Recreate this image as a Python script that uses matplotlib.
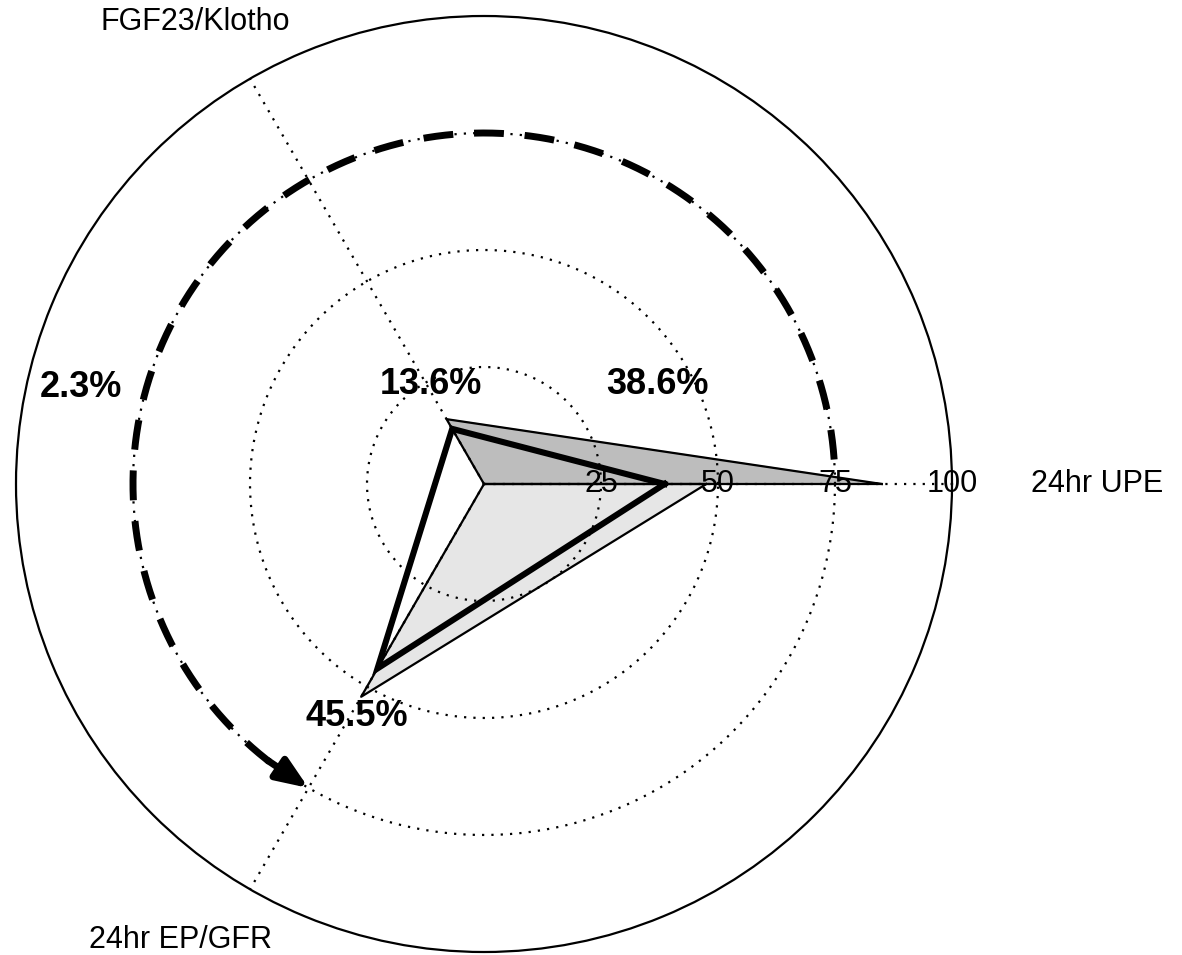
import numpy as np
import matplotlib.pyplot as plt

plt.rcParams['font.family'] = ['Liberation Sans', 'DejaVu Sans']

# axes of the radar, angle in degrees
axis_names = ["24hr UPE", "FGF23/Klotho", "24hr EP/GFR"]
axis_angles = [0, 120, 240]

# three profiles on the same axes (UPE, FGF23/Klotho, EP/GFR)
profile_dark = [85, 16, 0]
profile_light = [47.5, 0, 52.5]
profile_main = [38.6, 13.6, 45.5]

ring_values = [25, 50, 75]
tick_values = [25, 50, 75, 100]

pct_labels = ["38.6%", "13.6%", "2.3%", "45.5%"]


def closed(vals):
    th = np.radians(axis_angles + [axis_angles[0]])
    return th, list(vals) + [vals[0]]


fig = plt.figure(figsize=(11.82, 9.55), dpi=100)
ax = fig.add_axes([16 / 1182, 3 / 955, 936 / 1182, 936 / 955], projection='polar')
ax.set_ylim(0, 100)
ax.grid(False)
ax.set_xticks([])
ax.set_yticks([])
ax.spines['polar'].set_linewidth(1.6)
ax.spines['polar'].set_color('black')

# filled profiles
th, r = closed(profile_dark)
ax.fill(th, r, color='#bdbdbd', zorder=2)
ax.plot(th, r, color='black', lw=1.6, zorder=3)
th, r = closed(profile_light)
ax.fill(th, r, color='#e6e6e6', zorder=2)
ax.plot(th, r, color='black', lw=1.6, zorder=3)

# dotted rings and spokes
circ = np.linspace(0, 2 * np.pi, 400)
for rv in ring_values:
    ax.plot(circ, np.full_like(circ, rv), color='black', lw=1.6,
            ls=(0, (1, 3.2)), zorder=4)
for a in axis_angles:
    ax.plot([np.radians(a)] * 2, [0, 100], color='black', lw=1.6,
            ls=(0, (1, 3.2)), zorder=4)

# thick outline
th, r = closed(profile_main)
ax.plot(th, r, color='black', lw=4.4, solid_joinstyle='miter', zorder=5)

# dashed arc with arrow head
arc = np.radians(np.linspace(4, 234, 300))
ax.plot(arc, np.full_like(arc, 75), color='black', lw=5,
        ls=(0, (4.3, 3.0)), solid_capstyle='butt', zorder=6)
ax.annotate('', xy=(np.radians(240), 75), xytext=(np.radians(232), 75),
            arrowprops=dict(arrowstyle='-|>,head_length=0.95,head_width=0.38',
                            lw=5, color='black', mutation_scale=20,
                            shrinkA=0, shrinkB=0),
            zorder=6)

# radial tick labels along the first axis
for tv in tick_values:
    ax.text(0, tv, str(tv), fontsize=22, ha='center', va='center',
            zorder=7, clip_on=False)

# axis names
ax.text(0, 131, axis_names[0], fontsize=22, ha='center', va='center', clip_on=False)
ax.text(np.radians(122), 116.5, axis_names[1], fontsize=22, ha='center', va='center', clip_on=False)
ax.text(np.radians(236.4), 117, axis_names[2], fontsize=22, ha='center', va='center', clip_on=False)

# percentage labels
pct_pos = [(29.8, 42.6), (118, 24), (166.5, 88.6), (241.4, 56.7)]
for lab, (a, rr) in zip(pct_labels, pct_pos):
    ax.text(np.radians(a), rr, lab, fontsize=26, fontweight='bold',
            ha='center', va='center', zorder=8, clip_on=False)

fig.savefig('out.png', dpi=100)
